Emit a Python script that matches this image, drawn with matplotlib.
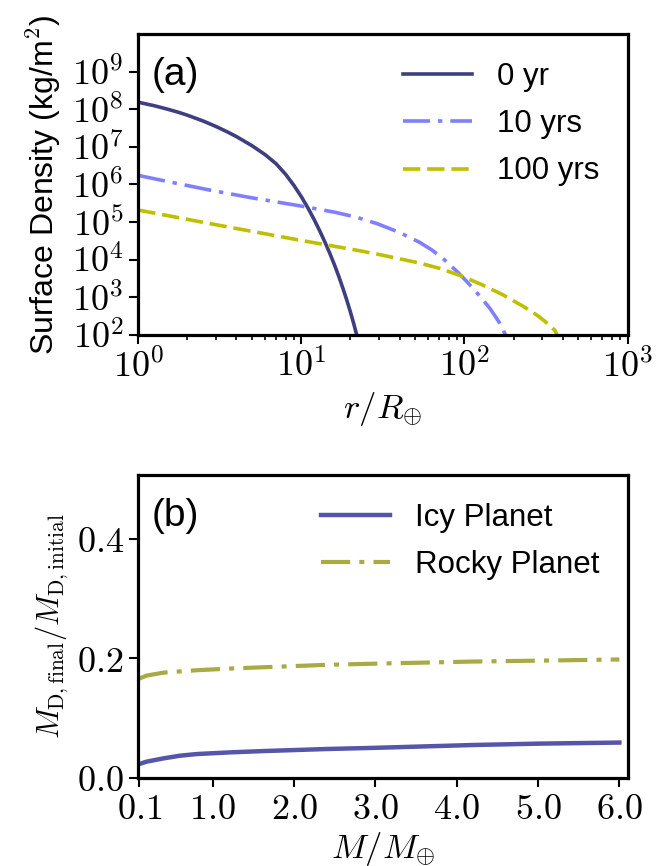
import numpy as np
import matplotlib
matplotlib.use('Agg')
import matplotlib.pyplot as plt
from matplotlib.ticker import FixedLocator, FuncFormatter, LogLocator, NullLocator, NullFormatter

plt.rcParams['font.family'] = ['Liberation Sans', 'DejaVu Sans']
plt.rcParams['mathtext.fontset'] = 'cm'

# panel (a): surface density profiles
r_0yr = [1.0, 1.25, 1.5, 1.75, 2.0, 2.5, 3.0, 3.5, 4.0, 5.0, 6.0, 7.0, 8.0, 9.0, 10.0,
         11.0, 12.0, 13.0, 14.0, 15.0, 16.0, 17.0, 18.0, 19.0, 20.0, 21.0, 22.0]
sig_0yr = [1.53e8, 1.24e8, 1.01e8, 8.36e7, 6.93e7, 4.85e7, 3.46e7, 2.52e7, 1.87e7, 1.06e7,
           6.18e6, 3.55e6, 1.87e6, 9.44e5, 4.71e5, 2.33e5, 1.15e5, 5.69e4, 2.83e4, 1.42e4,
           7.08e3, 3.51e3, 1.71e3, 8.38e2, 4.04e2, 1.92e2, 8.9e1]

r_10yr = [1.0, 1.51, 2.74, 4.94, 10.07, 16.2, 21.7, 29.2, 39.3, 52.8, 63.1, 75.3, 89.9,
          101.0, 114.0, 128.0, 144.0, 162.0, 172.0, 180.0]
sig_10yr = [1.74e6, 1.20e6, 7.10e5, 4.43e5, 2.65e5, 1.81e5, 1.35e5, 9.06e4, 5.47e4, 2.94e4,
            1.82e4, 9.98e3, 4.91e3, 2.93e3, 1.65e3, 9.29e2, 4.93e2, 2.30e2, 1.42e2, 9.2e1]

r_100yr = [1.0, 2.74, 10.07, 21.7, 29.2, 52.8, 70.7, 95.5, 128.0, 172.0, 232.0, 277.0,
           311.0, 359.0, 372.0]
sig_100yr = [2.09e5, 9.14e4, 3.23e4, 1.80e4, 1.41e4, 8.20e3, 5.86e3, 3.72e3, 2.17e3, 1.17e3,
             5.61e2, 3.41e2, 2.33e2, 1.32e2, 9.5e1]

# panel (b): disk mass ratio vs planet mass
mass = [0.1, 0.19, 0.40, 0.60, 0.81, 1.22, 1.63, 2.4, 3.0, 4.2, 5.0, 6.0]
icy = [0.0229, 0.0268, 0.0324, 0.0368, 0.0396, 0.0424, 0.0446, 0.0480, 0.0500, 0.0547, 0.0570, 0.0588]
rocky = [0.166, 0.171, 0.176, 0.178, 0.180, 0.1828, 0.185, 0.189, 0.191, 0.1945, 0.196, 0.198]

ydecades = [2, 3, 4, 5, 6, 7, 8, 9]
xdecades = [0, 1, 2, 3]
mticks = [0.1, 1.0, 2.0, 3.0, 4.0, 5.0, 6.0]
ratio_ticks = [0.0, 0.2, 0.4]

fig = plt.figure(figsize=(6.57, 8.66), dpi=100)
ax1 = fig.add_axes([0.2105, 0.6132, 0.7446, 0.3476])
ax2 = fig.add_axes([0.2105, 0.102, 0.7446, 0.3495])

lw = 2.6
ax1.plot(r_0yr, sig_0yr, color='#3f3f7f', lw=lw, label='0 yr')
ax1.plot(r_10yr, sig_10yr, color='#7f7fff', lw=lw, dashes=(7.5, 2.2, 1.2, 2.2), label='10 yrs')
ax1.plot(r_100yr, sig_100yr, color='#bfbf00', lw=lw, dashes=(4.8, 1.9), label='100 yrs')
ax1.set_xscale('log')
ax1.set_yscale('log')
ax1.set_xlim(1, 1e3)
ax1.set_ylim(1e2, 1e10)
ax1.yaxis.set_major_locator(FixedLocator([10.0**d for d in ydecades]))
ax1.yaxis.set_minor_locator(NullLocator())
ax1.yaxis.set_major_formatter(FuncFormatter(lambda v, p: r'$10^{%d}$' % round(np.log10(v))))
ax1.xaxis.set_major_locator(FixedLocator([10.0**d for d in xdecades]))
ax1.xaxis.set_minor_locator(LogLocator(base=10, subs=np.arange(2, 10)))
ax1.xaxis.set_minor_formatter(NullFormatter())
ax1.xaxis.set_major_formatter(FuncFormatter(lambda v, p: r'$10^{%d}$' % round(np.log10(v))))
ax1.set_xlabel(r'$r/R_{\oplus}$', fontsize=25)
ax1.set_ylabel(r'Surface Density (kg/m$^2$)', fontsize=23, labelpad=6)
ax1.text(0.028, 0.864, '(a)', transform=ax1.transAxes, fontsize=28, va='center', ha='left')

ax2.plot(mass, icy, color='#5555aa', lw=3.2, label='Icy Planet')
ax2.plot(mass, rocky, color='#aaaa44', lw=3.0, dashes=(7.0, 2.2, 1.2, 2.2), label='Rocky Planet')
ax2.set_xlim(0.088, 6.1)
ax2.set_ylim(0, 0.507)
ax2.set_xticks(mticks)
ax2.set_xticklabels([r'$%.1f$' % v for v in mticks])
ax2.set_yticks(ratio_ticks)
ax2.set_yticklabels([r'$%.1f$' % v for v in ratio_ticks])
ax2.set_xlabel(r'$M/M_{\oplus}$', fontsize=25, labelpad=2)
ax2.set_ylabel(r'$M_{\rm D,final}/M_{\rm D,initial}$', fontsize=22)
ax2.text(0.028, 0.864, '(b)', transform=ax2.transAxes, fontsize=28, va='center', ha='left')

for ax in (ax1, ax2):
    for s in ax.spines.values():
        s.set_linewidth(2.3)
    ax.tick_params(which='major', direction='out', length=6.5, width=1.5, labelsize=26, pad=4,
                   top=False, right=False)
    ax.tick_params(which='minor', direction='out', length=3.5, width=1.2, top=False, right=False)
    ax.legend(loc='upper right', frameon=False, fontsize=22.5, handlelength=2.2,
              handletextpad=0.8, labelspacing=0.55)

fig.savefig('out.png', dpi=100)
